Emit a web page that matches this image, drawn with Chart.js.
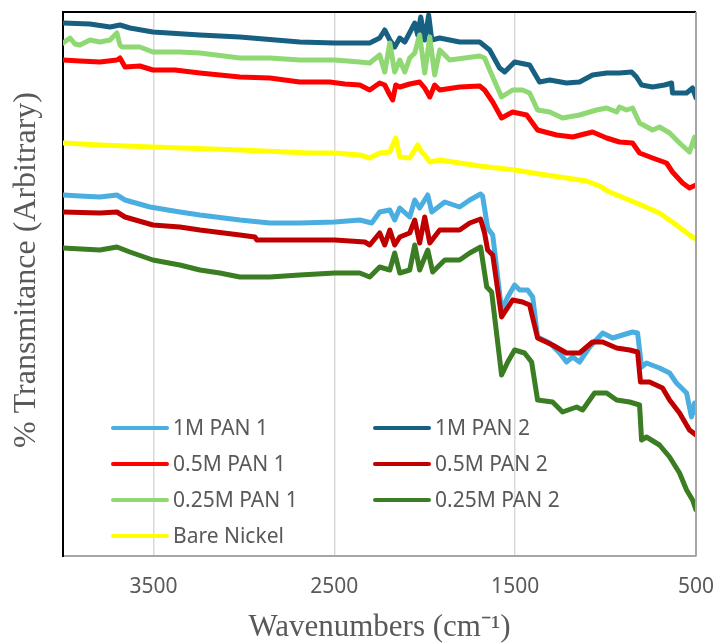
<!DOCTYPE html>
<html>
<head>
<meta charset="utf-8">
<script src="https://cdn.jsdelivr.net/npm/chart.js@4.4.1/dist/chart.umd.min.js"></script>
<style>
  html, body { margin: 0; padding: 0; background: #ffffff; }
  canvas { display: block; }
</style>
</head>
<body>
<canvas id="ftir" width="717" height="643"></canvas>
<script>
// FTIR spectra: [wavenumber (cm-1), transmittance (arbitrary, offset for stacking)]
const seriesNames = ['1M PAN 1', '1M PAN 2', '0.5M PAN 1', '0.5M PAN 2', '0.25M PAN 1', '0.25M PAN 2', 'Bare Nickel'];
const seriesColors = ['#4aaee0', '#176082', '#ff0000', '#c00000', '#8fd873', '#3a7d22', '#ffff00'];

const pan1M_1 = [
  [4000,361],[3906,360],[3796,359],[3702,361],[3657,356],[3519,349],[3354,344],[3243,341],[3022,336],
  [2856,333],[2691,333],[2497,334],[2359,336],[2293,333],[2249,344],[2193,346],[2166,336],[2138,348],
  [2083,339],[2055,356],[2028,348],[1983,361],[1961,344],[1889,354],[1807,349],[1751,356],[1691,362],
  [1680,360],[1652,328],[1624,321],[1575,246],[1541,259],[1503,271],[1475,266],[1431,266],[1403,259],
  [1376,219],[1309,213],[1254,203],[1216,194],[1182,199],[1144,194],[1088,209],[1016,223],[961,218],
  [906,221],[851,224],[823,223],[801,189],[774,193],[702,188],[646,183],[608,173],[552,163],[525,139],
  [508,153],[500,143]
];
const pan1M_2 = [
  [4000,533],[3851,532],[3740,529],[3685,531],[3630,528],[3503,524],[3243,521],[3022,519],[2691,514],
  [2497,513],[2304,513],[2249,518],[2221,526],[2193,516],[2166,509],[2138,518],[2110,514],[2055,533],
  [2039,521],[2022,539],[2000,516],[1978,541],[1961,516],[1917,518],[1807,514],[1696,514],[1641,506],
  [1586,488],[1558,484],[1503,494],[1420,491],[1365,474],[1309,476],[1216,473],[1144,474],[1072,481],
  [994,483],[923,483],[856,484],[829,479],[801,471],[740,469],[674,471],[635,473],[630,463],[552,463],
  [519,468],[500,458]
];
const pan05M_1 = [
  [4000,496],[3906,495],[3796,494],[3702,496],[3685,498],[3657,489],[3575,490],[3503,486],[3381,486],
  [3243,483],[3022,479],[2856,478],[2691,474],[2525,474],[2442,472],[2359,471],[2304,466],[2249,473],
  [2221,471],[2193,461],[2177,456],[2160,471],[2138,469],[2083,472],[2028,474],[2000,468],[1972,459],
  [1945,471],[1917,466],[1807,469],[1696,470],[1669,466],[1624,454],[1575,438],[1514,444],[1436,441],
  [1376,426],[1271,421],[1182,419],[1072,424],[994,418],[923,414],[851,413],[812,403],[740,398],
  [663,393],[630,384],[574,373],[536,368],[500,371]
];
const pan05M_2 = [
  [4000,344],[3796,343],[3702,344],[3657,339],[3503,331],[3354,329],[3243,326],[3022,321],[2939,319],
  [2928,316],[2691,316],[2497,316],[2331,314],[2304,311],[2249,323],[2221,311],[2193,326],[2166,311],
  [2138,319],[2083,323],[2055,336],[2028,313],[2000,339],[1972,313],[1917,326],[1807,326],[1751,333],
  [1691,337],[1669,323],[1652,306],[1624,301],[1575,239],[1514,256],[1459,254],[1420,251],[1376,218],
  [1293,211],[1216,203],[1144,203],[1072,214],[1016,214],[939,208],[867,206],[823,204],[807,174],
  [757,174],[685,168],[646,156],[591,143],[536,126],[500,121]
];
const pan025M_1 = [
  [4000,513],[3961,518],[3934,512],[3906,511],[3851,516],[3796,514],[3740,516],[3702,523],[3685,511],
  [3674,509],[3575,509],[3503,504],[3354,504],[3243,503],[3022,498],[2856,498],[2691,496],[2497,496],
  [2359,494],[2304,493],[2249,501],[2221,484],[2193,513],[2166,484],[2138,496],[2110,484],[2083,498],
  [2055,503],[2028,521],[2000,483],[1972,519],[1945,481],[1917,506],[1862,496],[1696,500],[1669,498],
  [1624,479],[1575,459],[1514,466],[1459,466],[1420,463],[1376,446],[1309,444],[1238,438],[1144,441],
  [1050,446],[994,448],[939,444],[923,449],[884,446],[851,448],[812,433],[740,426],[702,429],[646,423],
  [591,413],[536,404],[508,419],[500,409]
];
const pan025M_2 = [
  [4000,308],[3796,306],[3702,309],[3630,304],[3503,296],[3354,291],[3243,286],[3133,283],[3022,279],
  [2856,279],[2691,281],[2497,283],[2359,283],[2304,279],[2249,289],[2193,286],[2166,303],[2138,283],
  [2083,286],[2055,311],[2028,286],[1983,306],[1956,284],[1889,296],[1807,296],[1751,303],[1691,309],
  [1657,269],[1630,264],[1575,181],[1541,194],[1503,206],[1448,203],[1409,194],[1376,156],[1293,154],
  [1238,144],[1160,149],[1127,146],[1061,163],[994,163],[939,156],[867,154],[812,151],[801,116],
  [774,119],[702,111],[646,99],[591,83],[552,66],[519,56],[500,46]
];
const bareNickel = [
  [4000,413],[3796,411],[3503,409],[3022,406],[2635,403],[2497,403],[2359,401],[2304,398],[2249,403],
  [2193,404],[2160,418],[2138,399],[2083,398],[2039,411],[2017,404],[2000,401],[1972,394],[1917,396],
  [1807,393],[1696,390],[1503,386],[1365,382],[1254,379],[1105,375],[1033,370],[978,364],[829,353],
  [702,343],[608,331],[536,321],[500,317]
];
const spectra = [pan1M_1, pan1M_2, pan05M_1, pan05M_2, pan025M_1, pan025M_2, bareNickel];

const xTicks = [3500, 2500, 1500, 500];
const xTitle = 'Wavenumbers (cm\u207B\u00B9)';
const yTitle = '% Transmitance (Arbitrary)';

const datasets = spectra.map((pts, i) => ({
  label: seriesNames[i],
  data: pts.map(([x, y]) => ({ x, y })),
  borderColor: seriesColors[i],
  backgroundColor: seriesColors[i],
  borderWidth: 5,
  pointRadius: 0,
  tension: 0,
  fill: false,
  borderJoinStyle: 'round',
  borderCapStyle: 'round',
  order: seriesNames.length - 1 - i
}));

// Frame on the top and right edges of the plot area
const framePlugin = {
  id: 'frame',
  afterDraw(chart) {
    const { ctx, chartArea: a } = chart;
    ctx.save();
    ctx.lineWidth = 2;
    ctx.strokeStyle = '#000000';
    ctx.beginPath();
    ctx.moveTo(a.left, a.top);
    ctx.lineTo(a.right, a.top);
    ctx.stroke();
    ctx.strokeStyle = '#a6a6a6';
    ctx.beginPath();
    ctx.moveTo(a.right, a.top);
    ctx.lineTo(a.right, a.bottom);
    ctx.stroke();
    ctx.restore();
  }
};

// Vertical axis title, placed a little above the plot centre
const yTitlePlugin = {
  id: 'yTitle',
  afterDraw(chart) {
    const { ctx, chartArea: a } = chart;
    ctx.save();
    ctx.translate(35, a.top + 258);
    ctx.rotate(-Math.PI / 2);
    ctx.font = '32px "Liberation Serif", "Times New Roman", serif';
    ctx.fillStyle = '#595959';
    ctx.textAlign = 'center';
    ctx.textBaseline = 'alphabetic';
    ctx.fillText(yTitle, 0, 0);
    ctx.restore();
  }
};

// Two-column legend inside the plot area
const legendPlugin = {
  id: 'insideLegend',
  afterDatasetsDraw(chart) {
    const { ctx, chartArea: a } = chart;
    ctx.save();
    ctx.font = '21px "Noto Sans", sans-serif';
    ctx.textBaseline = 'middle';
    ctx.textAlign = 'left';
    chart.data.datasets.forEach((ds, i) => {
      const col = i % 2, row = Math.floor(i / 2);
      const x0 = a.left + (col === 0 ? 50 : 312);
      const y0 = a.top + 416 + row * 36;
      ctx.strokeStyle = ds.borderColor;
      ctx.lineWidth = 4;
      ctx.lineCap = 'round';
      ctx.beginPath();
      ctx.moveTo(x0, y0);
      ctx.lineTo(x0 + 54, y0);
      ctx.stroke();
      ctx.fillStyle = '#595959';
      ctx.fillText(ds.label, x0 + 60, y0 + 1);
    });
    ctx.restore();
  }
};

new Chart(document.getElementById('ftir'), {
  type: 'line',
  data: { datasets },
  options: {
    responsive: false,
    animation: false,
    layout: { padding: { top: 12, right: 21, left: 0, bottom: 0 } },
    plugins: { legend: { display: false }, tooltip: { enabled: false } },
    scales: {
      x: {
        type: 'linear',
        reverse: true,
        min: 500,
        max: 4000,
        afterBuildTicks(scale) { scale.ticks = xTicks.map(v => ({ value: v })); },
        afterFit(scale) { scale.height = 87; scale.paddingLeft = 0; scale.paddingRight = 0; },
        grid: { display: true, color: '#d9d9d9', lineWidth: 1.5, drawTicks: false },
        border: { display: true, color: '#a6a6a6', width: 2 },
        ticks: {
          color: '#595959',
          font: { family: '"Noto Sans", sans-serif', size: 21 },
          padding: 18,
          maxRotation: 0,
          autoSkip: false,
          callback: v => String(v)
        },
        title: {
          display: true,
          text: xTitle,
          color: '#595959',
          font: { family: '"Liberation Serif", "Times New Roman", serif', size: 31, lineHeight: 1 },
          padding: { top: 0, bottom: 0 }
        }
      },
      y: {
        type: 'linear',
        min: 0,
        max: 544,
        afterFit(scale) { scale.width = 63; },
        grid: { display: false },
        border: { display: true, color: '#000000', width: 2 },
        ticks: { display: false },
        title: { display: false }
      }
    }
  },
  plugins: [framePlugin, yTitlePlugin, legendPlugin]
});
</script>
</body>
</html>
